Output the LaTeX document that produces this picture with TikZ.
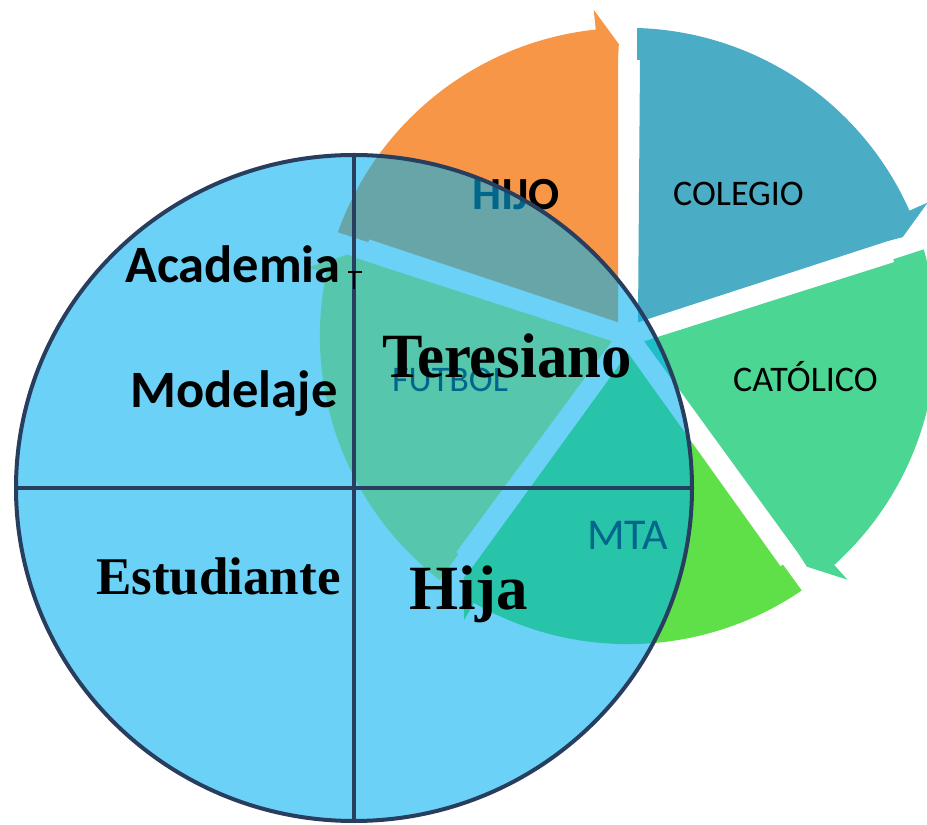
\documentclass[tikz,border=0pt]{standalone}
\usepackage{fontspec}
\setmainfont{Liberation Serif}
\newfontfamily\calib{Carlito}
\usetikzlibrary{calc,shapes.geometric}
\definecolor{hijoC}{RGB}{247,150,70}
\definecolor{colegioC}{RGB}{75,172,198}
\definecolor{catolicoC}{RGB}{75,214,148}
\definecolor{mtaC}{RGB}{96,224,72}
\definecolor{futbolC}{RGB}{205,233,80}
\definecolor{overC}{RGB}{0,176,240}
\definecolor{navyC}{RGB}{40,62,95}
\newcommand{\cycwedge}[2]{%
  \pgfmathsetmacro{\ae}{#2}%
  \pgfmathsetmacro{\as}{#2+72}%
  \pgfmathsetmacro{\ast}{#2+72-1.674}%
  \pgfmathsetmacro{\aen}{#2+6}%
  \fill[#1] ($(C)+(\ae+36:17)$)
    -- ($(C)+(\as:276)+(\as-90:12)$)
    -- ($(C)+(\as:276)+(\as-90:9)$)
    -- ($(C)+(\as:308)+(\as-90:9)$)
    arc[start angle=\ast, end angle=\aen, radius=308.1]
    -- ($(C)+(\ae+6:328)$)
    -- ($(C)+(\ae+1.8:292)$)
    -- ($(C)+(\ae:276)+(\ae+90:10)$)
    -- cycle;
}
\tikzset{
  cyclab/.style={inner sep=0pt, anchor=base west, text=black, font=\calib\fontsize{36}{40}\selectfont},
  bigsans/.style={inner sep=0pt, anchor=base west, text=black, font=\calib\bfseries\fontsize{52.5}{60}\selectfont},
  bigserif/.style={inner sep=0pt, anchor=base west, text=black, font=\bfseries\fontsize{63}{70}\selectfont},
  circstyle/.style={ellipse, minimum width=676pt, minimum height=666pt, inner sep=0pt, outer sep=0pt,
    fill=overC, fill opacity=0.58, draw=navyC, draw opacity=1, line width=4pt},
  qline/.style={draw=navyC, line width=3.8pt},
}
\begin{document}
\begin{tikzpicture}[x=1pt,y=1pt]
\useasboundingbox (0,0) rectangle (927,825);
\clip (0,0) rectangle (927,825);
\coordinate (C) at (628,489);
% cycle wedges
\cycwedge{hijoC}{90}
\cycwedge{colegioC}{18}
\cycwedge{catolicoC}{-54}
\cycwedge{mtaC}{-126}
\cycwedge{futbolC}{-198}
% cycle labels
\node[cyclab, font=\calib\bfseries\fontsize{46}{50}\selectfont] (hijo) at (472,615) {HIJO};
\node[cyclab] (colegio) at (673,619) {COLEGIO};
\node[cyclab] (catolico) at (733,433) {CATÓLICO};
\node[cyclab] (futbol) at (392,433) {FUTBOL};
\node[cyclab, font=\calib\fontsize{44}{50}\selectfont] (mta) at (587,275) {MTA};
% overlay circle
\node[circstyle] (circ) at (354,337) {};
\draw[qline] (circ.north) -- (circ.south);
\draw[qline] (circ.west) -- (circ.east);
% circle labels
\node[bigsans] (academia) at (125,542) {Academia};
\node[bigsans] (modelaje) at (130,417) {Modelaje};
\node[bigserif, xscale=0.963] (teresiano) at (382,447) {Teresiano};
\node[bigserif, font=\bfseries\fontsize{53}{60}\selectfont] (estudiante) at (96,230) {Estudiante};
\node[bigserif] (hija) at (409,215) {Hija};
% small T mark
\draw[black, line width=2pt] (348,553) -- (362,553);
\draw[black, line width=2pt] (354,553) -- (354,536);
\end{tikzpicture}
\end{document}
